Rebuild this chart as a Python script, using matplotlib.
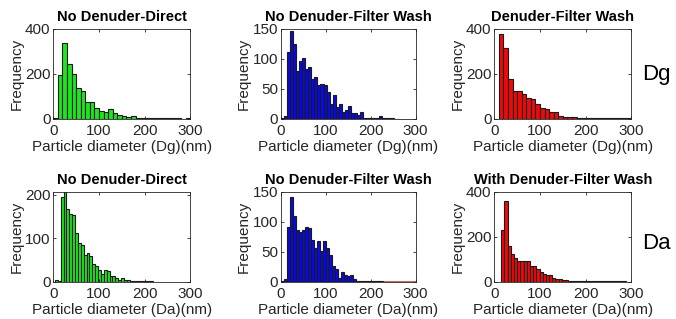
import numpy as np
import matplotlib
matplotlib.use('Agg')
import matplotlib.pyplot as plt

matplotlib.rcParams.update({
    'font.family': ['Liberation Sans', 'DejaVu Sans'],
    'font.size': 11,
})

# bar heights (counts per bin)
dg_direct = [5, 195, 338, 244, 198, 138, 123, 74, 74, 48, 33, 30, 42, 25, 15,
             10, 9, 12, 4, 4, 3, 3, 2, 2, 1, 1, 1, 1, 0, 1]
dg_nodenuder_wash = [2, 5, 112, 146, 125, 80, 97, 101, 83, 86, 67, 70, 56, 58,
                     57, 44, 25, 40, 19, 25, 12, 14, 21, 10, 10, 6, 11, 2, 1,
                     2, 2, 1, 4, 2, 1, 1, 1, 0]
dg_denuder_wash = [378, 314, 178, 121, 121, 111, 93, 89, 64, 47, 42, 32, 28, 12,
                   8, 7, 8, 5, 4, 4, 4, 3, 3, 2, 2, 2, 2, 1, 1]

da_direct = [3, 1, 194, 215, 168, 155, 154, 113, 90, 84, 61, 65, 59, 40, 36,
             27, 18, 28, 25, 12, 13, 9, 5, 8, 3, 5, 2, 1, 2, 1, 1, 2, 1, 1]
da_nodenuder_wash = [2, 4, 92, 141, 109, 86, 83, 87, 92, 90, 69, 57, 68, 51, 68,
                     57, 44, 26, 21, 7, 17, 12, 9, 11, 5, 2, 1, 2, 1, 1, 2, 1,
                     1, 1]
da_denuder_wash = [228, 358, 161, 123, 105, 93, 92, 92, 90, 70, 68, 55, 45, 35,
                   28, 28, 15, 12, 10, 8, 6, 5, 4, 5, 3, 3, 2, 2, 3, 2, 2, 1,
                   2, 1, 1, 2, 1, 1, 1]

# bin start / bin width (nm) for each panel
bins = {
    'dg_direct': (0, 10), 'dg_nodenuder_wash': (0, 6.8), 'dg_denuder_wash': (10, 10),
    'da_direct': (3.4, 6.3), 'da_nodenuder_wash': (0, 6.7), 'da_denuder_wash': (15, 7),
}

titles_top = ['No Denuder-Direct', 'No Denuder-Filter Wash', 'Denuder-Filter Wash']
titles_bot = ['No Denuder-Direct', 'No Denuder-Filter Wash', 'With Denuder-Filter Wash']

panels = [
    (dg_direct, 'dg_direct', '#1ee61e', titles_top[0], 'Dg', (0, 400), [0, 200, 400]),
    (dg_nodenuder_wash, 'dg_nodenuder_wash', '#0a0ae6', titles_top[1], 'Dg', (0, 150), [0, 50, 100, 150]),
    (dg_denuder_wash, 'dg_denuder_wash', '#ee0a0a', titles_top[2], 'Dg', (0, 400), [0, 200, 400]),
    (da_direct, 'da_direct', '#1ee61e', titles_bot[0], 'Da', (0, 207), [0, 100, 200]),
    (da_nodenuder_wash, 'da_nodenuder_wash', '#0a0ae6', titles_bot[1], 'Da', (0, 150), [0, 50, 100, 150]),
    (da_denuder_wash, 'da_denuder_wash', '#ee0a0a', titles_bot[2], 'Da', (0, 400), [0, 200, 400]),
]

lefts = [0.0789, 0.4152, 0.7312]
widths = [0.2027, 0.1997, 0.2027]
bottoms = [0.6279, 0.1169]
height = 0.282

fig = plt.figure(figsize=(6.76, 3.19), dpi=100)

for i, (h, key, col, title, dname, ylim, yticks) in enumerate(panels):
    r, c = divmod(i, 3)
    ax = fig.add_axes([lefts[c], bottoms[r], widths[c], height])
    start, bw = bins[key]
    x = start + bw * np.arange(len(h))
    ax.bar(x, h, width=bw, align='edge', color=col, edgecolor='#1a1a1a', linewidth=0.8)
    if key == 'da_nodenuder_wash':
        # empty second histogram drawn along the baseline
        ax.hlines(0, 230, 300, color='#c0714f', linewidth=1.5, zorder=3)
    ax.set_xlim(0, 300)
    ax.set_ylim(*ylim)
    ax.set_xticks([0, 100, 200, 300])
    ax.set_yticks(yticks)
    ax.tick_params(direction='in', top=True, right=True, length=2.5, width=0.6,
                   colors='#262626', labelsize=11)
    ax.tick_params(axis='x', pad=3.5)
    ax.tick_params(axis='y', pad=2)
    for s in ax.spines.values():
        s.set_color('#262626')
        s.set_linewidth(0.6)
    ax.set_title(title, fontsize=10.5, fontweight='bold', pad=5.5)
    ax.set_xlabel('Particle diameter (%s)(nm)' % dname, fontsize=11, color='#262626', labelpad=2)
    ax.set_ylabel('Frequency', fontsize=11, color='#262626', labelpad=1)

fig.text(0.950, 0.765, 'Dg', fontsize=16, va='center', ha='left')
fig.text(0.950, 0.238, 'Da', fontsize=16, va='center', ha='left')

plt.savefig('out.png', dpi=100)
